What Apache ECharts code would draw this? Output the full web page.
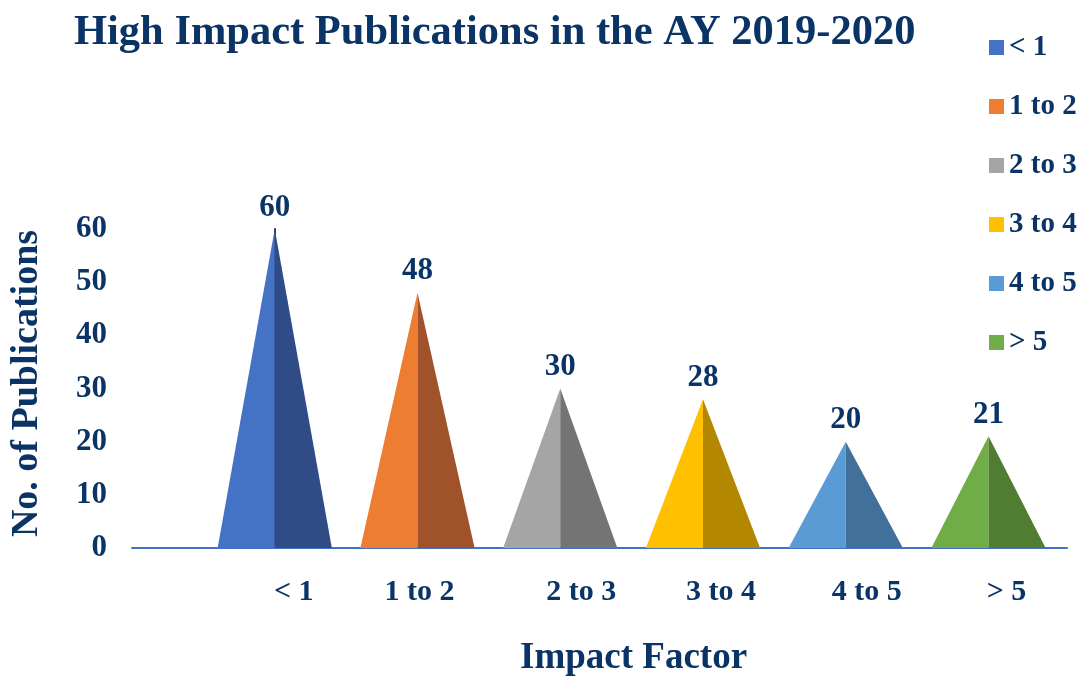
<!DOCTYPE html>
<html>
<head>
<meta charset="utf-8">
<script src="https://cdn.jsdelivr.net/npm/echarts@6/dist/echarts.min.js"></script>
<style>
  html, body { margin: 0; padding: 0; background: #fff; }
  #main { width: 1078px; height: 677px; }
</style>
</head>
<body>
<div id="main"></div>
<script>
// impact factor buckets
var categories = ['< 1', '1 to 2', '2 to 3', '3 to 4', '4 to 5', '> 5'];
// publications per bucket
var counts = [60, 48, 30, 28, 20, 21];
var lightColors = ['#4472c4', '#ed7d31', '#a5a5a5', '#ffc000', '#5b9bd5', '#70ad47'];
var darkColors = ['#2f4c87', '#a0522a', '#747474', '#b38700', '#41709a', '#507d32'];
var yTicks = [0, 10, 20, 30, 40, 50, 60];
// small shift of each category label, like in the original slide
var labelShift = [38, 4, 42, 36, 42, 36];

var navy = '#0a3366';
var serif = '"Liberation Serif", "Times New Roman", serif';

function renderPyramid(params, api) {
    var i = params.seriesIndex;
    var v = api.value(1);
    var top = api.coord([api.value(0), v]);
    var base = api.coord([api.value(0), 0]);
    var half = api.size([0.4, 0])[0];
    return {
        type: 'group',
        children: [
            {
                type: 'polygon',
                shape: { points: [[base[0] - half, base[1]], [top[0], top[1]], [base[0], base[1]]] },
                style: { fill: lightColors[i] }
            },
            {
                type: 'polygon',
                shape: { points: [[base[0], base[1]], [top[0], top[1]], [base[0] + half, base[1]]] },
                style: { fill: darkColors[i] }
            },
            {
                type: 'text',
                x: top[0],
                y: top[1] - 6,
                style: {
                    text: String(v),
                    align: 'center',
                    verticalAlign: 'bottom',
                    fontSize: 31,
                    fontWeight: 'bold',
                    fontFamily: serif,
                    fill: navy
                }
            }
        ]
    };
}

var rich = {};
labelShift.forEach(function (p, i) {
    rich['c' + i] = {
        fontSize: 30, fontWeight: 'bold', fontFamily: serif, color: navy,
        padding: [0, 0, 0, p]
    };
});

var series = categories.map(function (c, i) {
    return {
        name: c,
        type: 'custom',
        renderItem: renderPyramid,
        itemStyle: { color: lightColors[i] },
        encode: { x: 0, y: 1 },
        data: [[i, counts[i]]]
    };
});

var option = {
    backgroundColor: '#fff',
    animation: false,
    title: [
        {
            text: 'High Impact Publications in the AY 2019-2020',
            left: 69,
            top: 7,
            textStyle: { fontSize: 42.5, fontWeight: 'bold', fontFamily: serif, color: navy }
        },
        {
            text: 'Impact Factor',
            left: 520,
            top: 640,
            padding: 0,
            textStyle: { fontSize: 37, fontWeight: 'bold', fontFamily: serif, color: navy }
        }
    ],
    legend: {
        orient: 'vertical',
        left: 984,
        top: 28,
        icon: 'rect',
        itemWidth: 15,
        itemHeight: 15,
        itemGap: 30,
        data: categories,
        textStyle: { fontSize: 29, fontWeight: 'bold', fontFamily: serif, color: navy }
    },
    grid: {
        left: 132,
        right: 11,
        top: 229,
        bottom: 129,
        outerBoundsMode: 'none'
    },
    xAxis: {
        type: 'value',
        min: -1,
        max: 5.55,
        interval: 1,
        splitLine: { show: false },
        axisTick: { show: false },
        axisLine: { lineStyle: { color: '#4472c4', width: 2 } },
        axisLabel: {
            margin: 29,
            showMaxLabel: false,
            formatter: function (v) {
                if (v >= 0 && v < categories.length && Math.round(v) === v) {
                    return '{c' + v + '|' + categories[v] + '}';
                }
                return '';
            },
            rich: rich
        }
    },
    yAxis: {
        type: 'value',
        min: yTicks[0],
        max: yTicks[yTicks.length - 1],
        interval: 10,
        name: 'No. of Publications',
        nameLocation: 'middle',
        nameGap: 86,
        nameTextStyle: { fontSize: 38, fontWeight: 'bold', fontFamily: serif, color: navy, padding: [0, 0, 0, 10] },
        splitLine: { show: false },
        axisTick: { show: false },
        axisLine: { show: true, lineStyle: { color: '#1f3864', width: 2 } },
        axisLabel: {
            margin: 25,
            fontSize: 31,
            fontWeight: 'bold',
            fontFamily: serif,
            color: navy
        }
    },
    series: series
};

var myChart = echarts.init(document.getElementById('main'));
myChart.setOption(option);
</script>
</body>
</html>
